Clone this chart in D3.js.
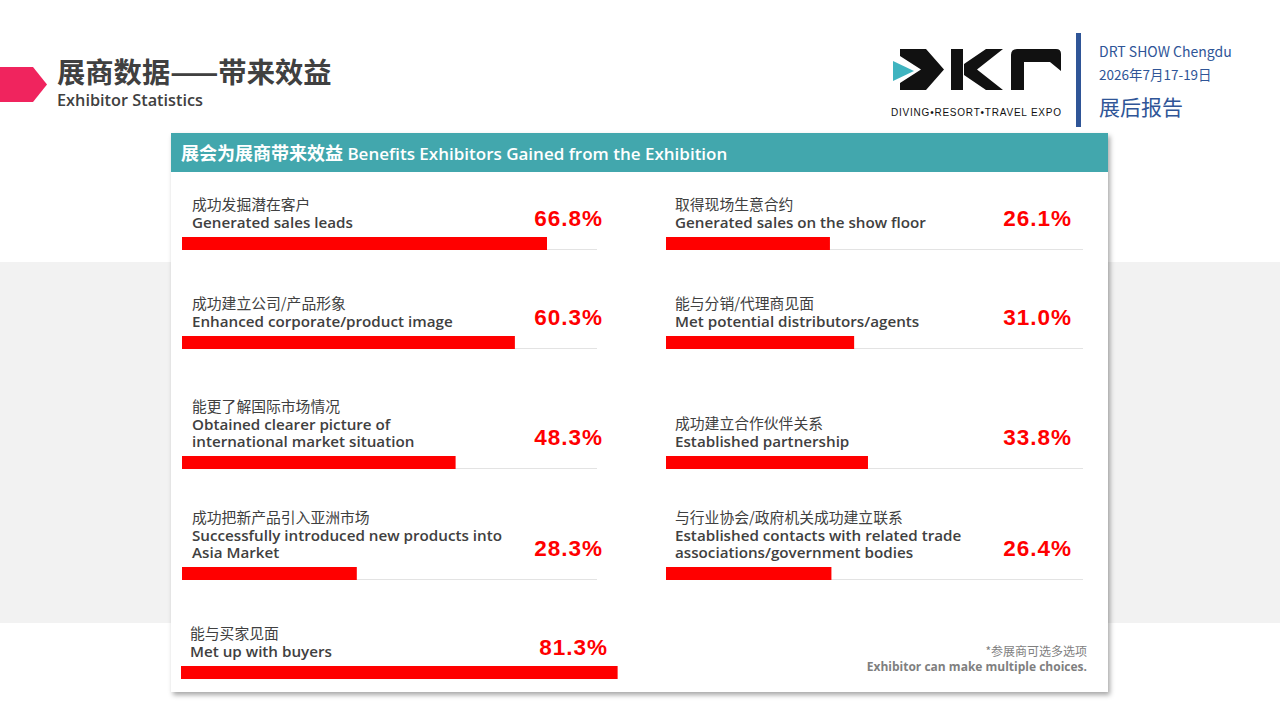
<!DOCTYPE html>
<html><head><meta charset="utf-8">
<script src="https://cdn.jsdelivr.net/npm/d3@7"></script>
<style>
html,body{margin:0;padding:0;background:#fff;}
svg{display:block;}
</style></head>
<body>
<svg id="c" width="1280" height="720"></svg>
<script>
// ---------- data ----------
const labelsCn = [
  "成功发掘潜在客户",
  "成功建立公司/产品形象",
  "能更了解国际市场情况",
  "成功把新产品引入亚洲市场",
  "取得现场生意合约",
  "能与分销/代理商见面",
  "成功建立合作伙伴关系",
  "与行业协会/政府机关成功建立联系",
  "能与买家见面"
];
const labelsEn = [
  ["Generated sales leads"],
  ["Enhanced corporate/product image"],
  ["Obtained clearer picture of", "international market situation"],
  ["Successfully introduced new products into", "Asia Market"],
  ["Generated sales on the show floor"],
  ["Met potential distributors/agents"],
  ["Established partnership"],
  ["Established contacts with related trade", "associations/government bodies"],
  ["Met up with buyers"]
];
const values = [66.8, 60.3, 48.3, 28.3, 26.1, 31.0, 33.8, 26.4, 81.3];
const title = "展商数据——带来效益";
const subtitle = "Exhibitor Statistics";
const headerCn = "展会为展商带来效益";
const headerEn = "Benefits Exhibitors Gained from the Exhibition";
const noteCn = "*参展商可选多选项";
const noteEn = "Exhibitor can make multiple choices.";
const eventLines = ["DRT SHOW Chengdu", "2026年7月17-19日", "展后报告"];
const logoText = "DIVING•RESORT•TRAVEL EXPO";

// ---------- drawing ----------
const svg = d3.select("#c");
const CN = "'Noto Sans CJK SC','Noto Sans',sans-serif";
const EN = "'Open Sans','Noto Sans CJK SC',sans-serif";
const TXT = "#404040";

const defs = svg.append("defs");
const f = defs.append("filter").attr("id","sh").attr("x","-5%").attr("y","-5%").attr("width","110%").attr("height","112%");
f.append("feDropShadow").attr("dx",2).attr("dy",3).attr("stdDeviation",2.5).attr("flood-color","#000").attr("flood-opacity",0.35);

// background band
svg.append("rect").attr("x",0).attr("y",262).attr("width",1280).attr("height",361).attr("fill","#f2f2f2");

// title arrow
svg.append("path").attr("d","M0,67 L33,67 L47,84.5 L33,102 L0,102 Z").attr("fill","#f0245e");
svg.append("text").attr("x",57).attr("y",83).text(title)
  .attr("font-family",CN).attr("font-weight",700).attr("font-size",28.3).attr("fill",TXT);
svg.append("text").attr("x",57).attr("y",106).text(subtitle)
  .attr("font-family",EN).attr("font-weight",600).attr("font-size",16.3).attr("fill",TXT);

// logo
const lg = svg.append("g").attr("fill","#111");
lg.append("path").attr("d","M893,61 L914,71 L893,81 Z").attr("fill","#3fb4c0");
lg.append("path").attr("d","M900,49 L926,49 L944,69.5 L926,90 L900,90 L900,83 L921,69.5 L900,56 Z");
lg.append("path").attr("d","M951,49 L963,49 L963,90 L951,90 Z");
lg.append("path").attr("d","M964,64 L986,49 L1003,49 L977,69.5 L1003,90 L986,90 L964,75 Z");
lg.append("path").attr("d","M1024,90 L1011,90 L1011,55 Q1011,49 1017,49 L1056,49 Q1061,49 1061,54 L1061,71 L1050,62 L1024,62 Z");
lg.append("text").attr("x",891).attr("y",116).text(logoText)
  .attr("font-family","'Liberation Sans',sans-serif").attr("font-size",10).attr("fill","#111")
  .attr("textLength",170).attr("lengthAdjust","spacing");

svg.append("rect").attr("x",1076).attr("y",33).attr("width",5).attr("height",94).attr("fill","#2f5597");
svg.append("text").attr("x",1099).attr("y",57).text(eventLines[0])
  .attr("font-family",CN).attr("font-size",14).attr("fill","#2f5597");
svg.append("text").attr("x",1099).attr("y",80).text(eventLines[1])
  .attr("font-family",CN).attr("font-size",13.5).attr("fill","#2f5597");
svg.append("text").attr("x",1099).attr("y",115).text(eventLines[2])
  .attr("font-family",CN).attr("font-size",21).attr("fill","#2f5597");

// card
svg.append("rect").attr("x",171).attr("y",133).attr("width",937).attr("height",559)
  .attr("fill","#fff").attr("filter","url(#sh)");
svg.append("rect").attr("x",171).attr("y",133).attr("width",937).attr("height",39).attr("fill","#42a7ad");
const ht = svg.append("text").attr("x",181).attr("y",160).attr("fill","#fff");
ht.append("tspan").text(headerCn).attr("font-family",CN).attr("font-weight",700).attr("font-size",18);
ht.append("tspan").text(" " + headerEn).attr("font-family",EN).attr("font-weight",600).attr("font-size",17);

// scales (bar length as drawn in the reference infographic)
const x = d3.scaleLinear().domain([0, 100]).range([35, 529]);
const rowBottoms = [250, 349, 469, 580];   // layout of the four rows in each column

const cols = [
  {barX:182, labelX:192, pctX:603, trackEnd:597},
  {barX:666, labelX:675, pctX:1072, trackEnd:1083},
  {barX:181, labelX:190, pctX:608, trackEnd:null}
];

const items = values.map((v,i)=>({
  v, cn: labelsCn[i], en: labelsEn[i],
  col: i < 4 ? 0 : (i < 8 ? 1 : 2),
  b: i < 8 ? rowBottoms[i % 4] : 679
}));

const g = svg.append("g");
const row = g.selectAll("g.row").data(items).join("g").attr("class","row");

row.filter(d=>cols[d.col].trackEnd!==null).append("line")
  .attr("x1",d=>cols[d.col].barX).attr("x2",d=>cols[d.col].trackEnd)
  .attr("y1",d=>d.b-0.5).attr("y2",d=>d.b-0.5)
  .attr("stroke","#e3e3e3").attr("stroke-width",1);

row.append("rect")
  .attr("x",d=>cols[d.col].barX)
  .attr("y",d=>d.b-13)
  .attr("width",d=>x(d.v))
  .attr("height",13)
  .attr("fill","#ff0000");

row.append("text")
  .attr("x",d=>cols[d.col].labelX)
  .attr("y",d=>d.b-22-17.5*(d.en.length-1)-18)
  .text(d=>d.cn)
  .attr("font-family",CN).attr("font-size",14.8).attr("fill",TXT);

row.each(function(d){
  const s = d3.select(this);
  d.en.forEach((line,k)=>{
    s.append("text")
      .attr("x",cols[d.col].labelX)
      .attr("y",d.b-22-17.5*(d.en.length-1-k))
      .text(line)
      .attr("font-family",EN).attr("font-weight",600).attr("font-size",15.2).attr("fill",TXT);
  });
});

row.append("text")
  .attr("x",d=>cols[d.col].pctX)
  .attr("y",d=>d.b-24)
  .attr("text-anchor","end")
  .text(d=>d3.format(".1f")(d.v)+"%")
  .attr("font-family","'Liberation Sans',Arial,sans-serif").attr("font-weight",700)
  .attr("font-size",22.5).attr("letter-spacing",1).attr("fill","#ff0000");

// note
svg.append("text").attr("x",1087).attr("y",656).attr("text-anchor","end").text(noteCn)
  .attr("font-family",CN).attr("font-size",12).attr("fill","#7f7f7f");
svg.append("text").attr("x",1087).attr("y",671).attr("text-anchor","end").text(noteEn)
  .attr("font-family",EN).attr("font-weight",700).attr("font-size",12).attr("fill","#7f7f7f");
</script>
</body></html>
